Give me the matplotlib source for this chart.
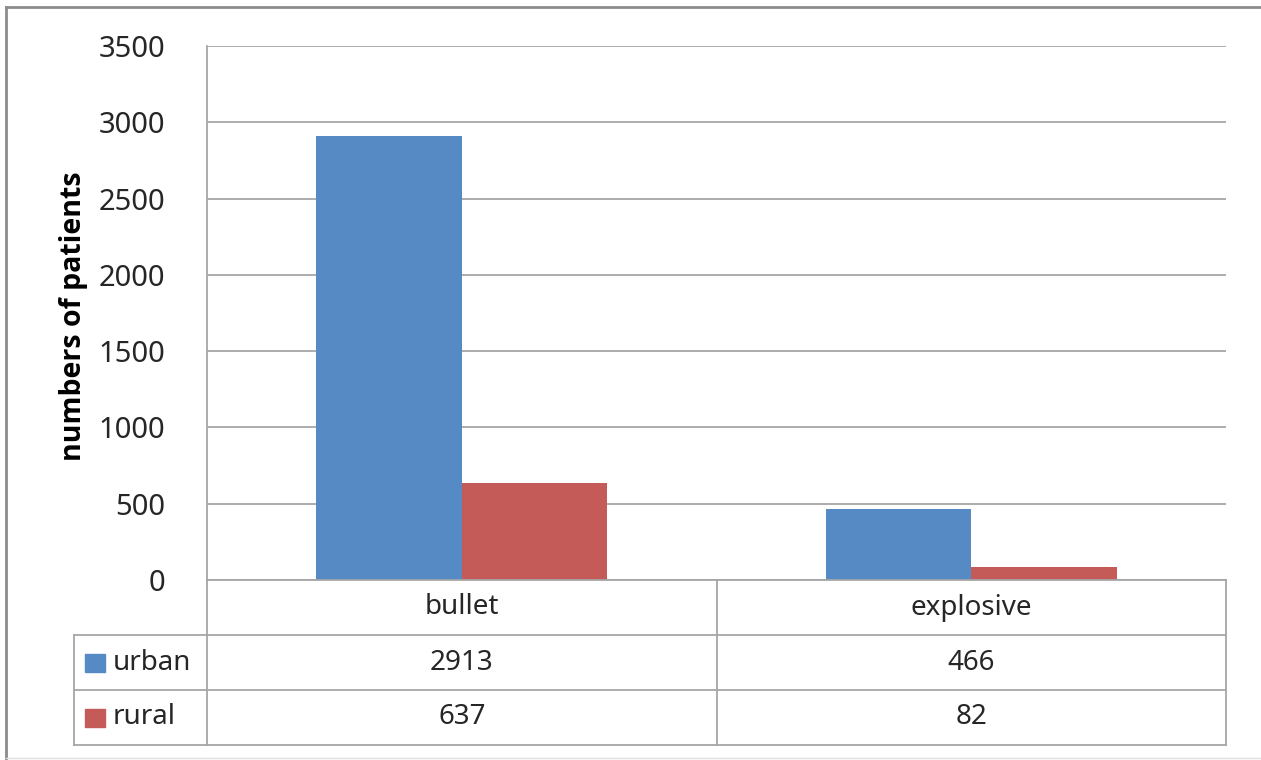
import matplotlib.pyplot as plt
import numpy as np
from matplotlib.patches import Rectangle
from matplotlib.lines import Line2D
from matplotlib.transforms import blended_transform_factory

# Patients by injury type and area
categories = ["bullet", "explosive"]
series_names = ["urban", "rural"]
urban = [2913, 466]
rural = [637, 82]
yticks = [0, 500, 1000, 1500, 2000, 2500, 3000, 3500]

BLUE = "#558AC5"
RED = "#C55B58"
GRID = "#A6A6A6"
TEXT = "#262626"
FONT = "Noto Sans"

W, H = 1261, 760
fig = plt.figure(figsize=(W / 100, H / 100), dpi=100)


def fx(px):
    return px / W


def fy(py):
    return 1 - py / H


# plot area in pixels
left, right, top, bottom = 207, 1226, 46, 580
row_h = 55
label_col = 74

ax = fig.add_axes([fx(left), fy(bottom), (right - left) / W, (bottom - top) / H])

x = np.arange(len(categories)) + 0.5
width = 1 / 3.5
ax.bar(x - width / 2, urban, width, color=BLUE, zorder=2)
ax.bar(x + width / 2, rural, width, color=RED, zorder=2)

ax.set_xlim(0, len(categories))
ax.set_ylim(0, yticks[-1])
ax.set_yticks(yticks)
ax.set_xticks([])
ax.yaxis.grid(True, color=GRID, lw=1.3)
ax.set_axisbelow(True)
for s in ["top", "right", "bottom"]:
    ax.spines[s].set_visible(False)
ax.spines["left"].set_color(GRID)
ax.spines["left"].set_linewidth(1.3)
ax.tick_params(axis="y", length=0, pad=30, labelsize=21, labelcolor=TEXT)
for lab in ax.get_yticklabels():
    lab.set_fontfamily(FONT)

fig.text(fx(74), fy(316), "numbers of patients", rotation=90, ha="center", va="center",
         fontsize=20.5, fontweight="bold", color="black", family=["Open Sans", "DejaVu Sans"])

# data table under the axis
lw = 1.3
def hline(y, x0, x1):
    fig.add_artist(Line2D([fx(x0), fx(x1)], [fy(y), fy(y)], color=GRID, lw=lw))

def vline(xp, y0, y1):
    fig.add_artist(Line2D([fx(xp), fx(xp)], [fy(y0), fy(y1)], color=GRID, lw=lw))

hline(bottom, left, right)
for i in range(1, 4):
    hline(bottom + i * row_h, label_col, right)
vline(label_col, bottom + row_h, bottom + 3 * row_h)
vline(left, bottom, bottom + 3 * row_h)
for k in range(1, len(categories) + 1):
    xp = left + k * (right - left) / len(categories)
    vline(xp, bottom, bottom + 3 * row_h)

tr = blended_transform_factory(ax.transData, fig.transFigure)
for xi, cat in zip(x, categories):
    fig.text(xi, fy(bottom + row_h / 2), cat, transform=tr, ha="center", va="center",
             fontsize=20, color=TEXT, family=FONT)

for r, (name, vals, col) in enumerate(zip(series_names, [urban, rural], [BLUE, RED])):
    yc = bottom + (r + 1.5) * row_h
    fig.add_artist(Rectangle((fx(85), fy(yc + 9)), 20 / W, 18 / H, color=col))
    fig.text(fx(113), fy(yc), name, ha="left", va="center", fontsize=20,
             color=TEXT, family=FONT)
    for xi, v in zip(x, vals):
        fig.text(xi, fy(yc), str(v), transform=tr, ha="center", va="center",
                 fontsize=20, color=TEXT, family=FONT)

# outer chart frame
fig.add_artist(Line2D([fx(6), fx(W + 5)], [fy(7), fy(7)], color="#8C8C8C", lw=2))
fig.add_artist(Line2D([fx(6), fx(6)], [fy(7), fy(H + 5)], color="#8C8C8C", lw=2))
fig.add_artist(Line2D([fx(6), fx(W)], [fy(758), fy(758)], color="#E0E0E0", lw=1))

fig.savefig("out.png", dpi=100, facecolor="white")
